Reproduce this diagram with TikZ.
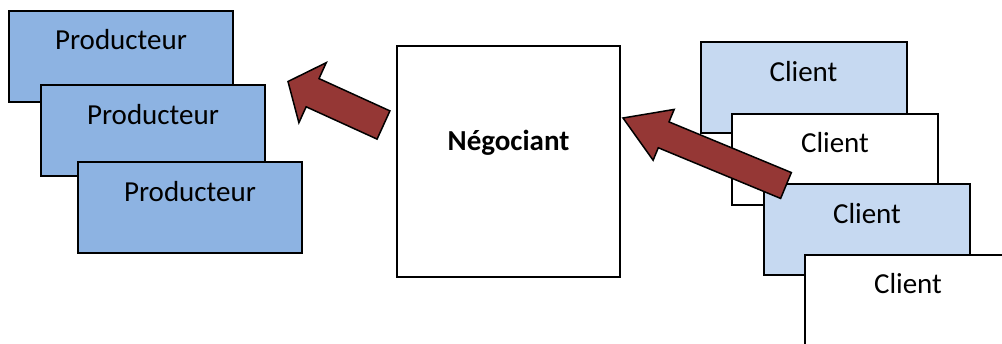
\documentclass[tikz,border=0pt]{standalone}
\usepackage{fontspec}
\setmainfont{Carlito}
\usepackage{xcolor}
\usepackage{tikz}
\usetikzlibrary{positioning,calc}
\definecolor{prodblue}{HTML}{8DB3E2}
\definecolor{clientblue}{HTML}{C6D9F1}
\definecolor{arrowred}{HTML}{953735}
% block arrow: #1 tail, #2 tip, #3 half shaft, #4 half head, #5 head length
\newcommand{\blockarrow}[5]{%
  \coordinate (ba) at ($(#2)!#5!(#1)$);
  \draw[arrowbody] ($(#1)!#3!90:(#2)$) -- ($(ba)!#3!90:(#2)$) -- ($(ba)!#4!90:(#2)$) -- (#2)
    -- ($(ba)!#4!-90:(#2)$) -- ($(ba)!#3!-90:(#2)$) -- ($(#1)!#3!-90:(#2)$) -- cycle;}

\begin{document}
\begin{tikzpicture}[
    x=0.5pt, y=0.5pt,
    box/.style={draw, line width=1pt, inner sep=0pt, minimum width=112pt, minimum height=45.5pt},
    prodbox/.style={box, fill=prodblue},
    clientbox/.style={box, minimum width=103pt, fill=white},
    lightbox/.style={clientbox, fill=clientblue},
    negbox/.style={box, minimum width=111.5pt, minimum height=115.5pt},
    boxtext/.style={inner sep=0pt, anchor=base, font=\fontsize{14.5}{17}\selectfont},
    arrowbody/.style={draw=black, line width=0.75pt, fill=arrowred, line join=miter},
]
\useasboundingbox (0,0) rectangle (1002,343);

% Producteurs
\node[prodbox] (prod1) at (121,286.5) {};
\node[boxtext] (prod1text) at ([yshift=-20pt]prod1.north) {Producteur};
\node[prodbox] (prod2) at (153,212) {};
\node[boxtext] (prod2text) at ([yshift=-20pt]prod2.north) {Producteur};
\node[prodbox] (prod3) at (190,135) {};
\node[boxtext] (prod3text) at ([yshift=-20pt]prod3.north) {Producteur};

% Negociant
\node[negbox] (neg) at (508.5,181.5) {};
\node[boxtext, font=\fontsize{14.5}{17}\selectfont\bfseries] (negtext) at ([yshift=-53pt]neg.north) {Négociant};

% Clients
\node[lightbox] (client1) at (803.5,255) {};
\node[boxtext] (client1text) at ([yshift=-20pt]client1.north) {Client};
\node[clientbox] (client2) at (835,183.5) {};
\node[boxtext] (client2text) at ([yshift=-20pt]client2.north) {Client};
\node[lightbox] (client3) at (867,113) {};
\node[boxtext] (client3text) at ([yshift=-20pt]client3.north) {Client};
\node[clientbox] (client4) at (908,42.5) {};
\node[boxtext] (client4text) at ([yshift=-20pt]client4.north) {Client};

% Arrows
\coordinate (negout) at ($(neg.west)+(-12.5,36.5)$);
\coordinate (prodin) at ($(prod2.north east)+(22,3)$);
\coordinate (clientout) at ($(client3.north west)+(23,-2)$);
\coordinate (negin) at ($(neg.east)+(2,43.5)$);
\blockarrow{negout}{prodin}{7.75pt}{16.5pt}{13.5pt}
\blockarrow{clientout}{negin}{7pt}{13.75pt}{22pt}

\end{tikzpicture}
\end{document}
